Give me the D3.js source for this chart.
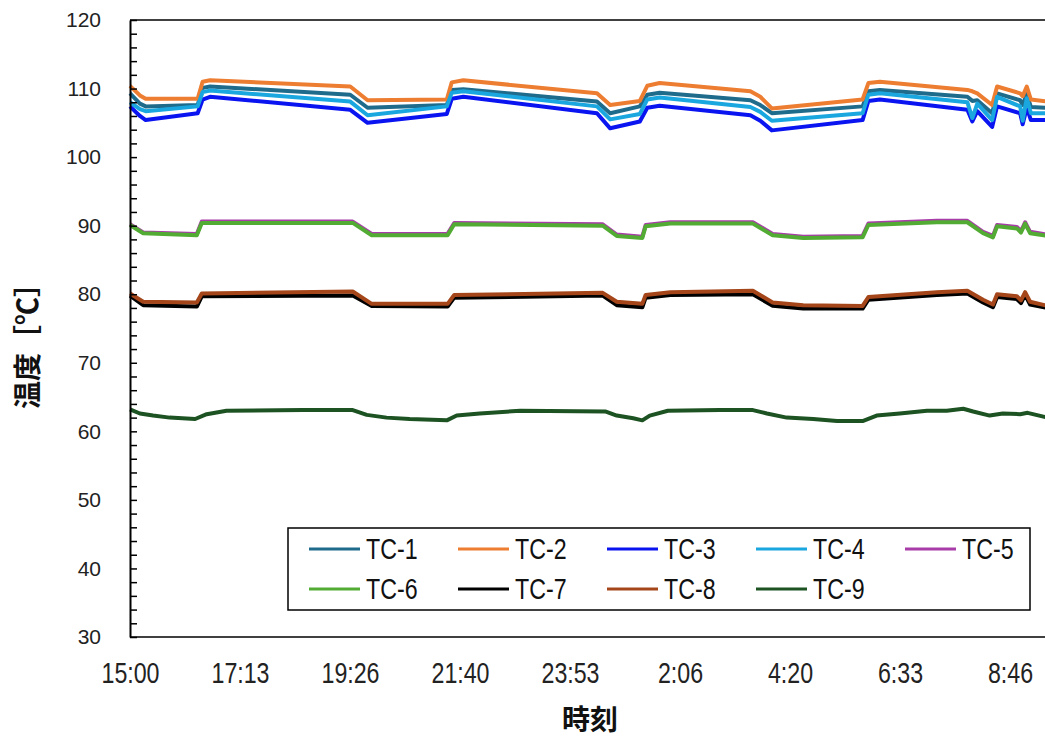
<!DOCTYPE html>
<meta charset="utf-8">
<style>
body { margin: 0; background: #fff; }
.ylab text { font-family: "Liberation Sans", Arial, sans-serif; font-size: 21px; fill: #222; }
.xlab text { font-family: "Liberation Sans", Arial, sans-serif; font-size: 29px; fill: #222; }
.title { font-family: "Noto Sans CJK JP", sans-serif; font-weight: 700; fill: #111; }
.legend text { font-family: "Liberation Sans", Arial, sans-serif; font-size: 29px; fill: #111; }
.series { fill: none; stroke-width: 4; stroke-linejoin: round; }
</style>
<body>
<script src="https://d3js.org/d3.v7.min.js"></script>
<script>
var width = 1045, height = 738;

// clock times of the readings (top group: TC-1..TC-4)
var timesHot = ["15:00","15:12","15:19","16:22","16:28","16:37","19:27","19:48","21:24","21:30","21:44",
	"0:26","0:42","1:18","1:27","1:42","3:32","3:44","3:58","5:48","5:55","6:09",
	"7:55","8:01","8:07","8:25","8:31","8:59","9:02","9:07","9:12","9:32"];
var tc1 = [109.3,107.8,107.4,107.6,110.1,110.3,109.1,107.2,107.6,109.8,109.9,
	108.1,106.4,107.4,109.1,109.4,108.3,107.6,106.4,107.4,109.6,109.8,
	108.8,108.2,108.3,106.4,109.3,108.3,107.6,109.2,107.3,107.2];
var tc2 = [110.4,109.0,108.5,108.5,111.0,111.2,110.3,108.3,108.4,110.9,111.2,
	109.3,107.6,108.2,110.4,110.8,109.6,108.8,107.1,108.4,110.8,111.0,
	109.8,109.6,109.3,107.6,110.3,109.3,108.9,110.3,108.4,108.1];
var tc3 = [107.4,106.0,105.4,106.4,108.4,108.8,106.9,105.0,106.3,108.5,108.8,
	106.4,104.2,105.2,107.2,107.5,106.1,105.3,103.9,105.4,108.2,108.4,
	106.9,105.2,106.7,104.4,107.4,106.4,104.8,107.2,105.4,105.4];
var tc4 = [108.0,107.0,106.7,107.4,109.5,109.7,108.1,106.1,107.4,109.4,109.6,
	107.4,105.5,106.3,108.4,108.7,107.3,106.6,105.3,106.4,109.1,109.3,
	108.0,105.7,107.8,105.4,108.8,107.4,105.3,108.6,106.4,106.4];

// middle group: TC-5..TC-8
var timesMid = ["15:00","15:16","16:21","16:27","19:30","19:53","21:25","21:33","0:33","0:50",
	"1:21","1:25","1:55","3:35","3:59","4:36","5:48","5:55","7:18","7:55",
	"8:14","8:26","8:31","8:55","9:00","9:05","9:11","9:32"];
var tc5 = [90.2,89.0,88.8,90.6,90.6,88.8,88.8,90.4,90.2,88.7,
	88.4,90.1,90.5,90.5,88.8,88.4,88.5,90.3,90.7,90.7,
	89.1,88.5,90.1,89.8,89.2,90.5,89.1,88.7];
var tc6 = [90.1,88.9,88.6,90.4,90.4,88.6,88.6,90.2,90.0,88.5,
	88.2,89.9,90.3,90.3,88.6,88.2,88.3,90.1,90.5,90.5,
	88.9,88.3,89.9,89.6,89.0,90.3,88.9,88.5];
var tc7 = [79.8,78.4,78.2,79.7,79.8,78.3,78.2,79.5,79.8,78.4,
	78.1,79.5,79.9,80.0,78.3,77.9,77.9,79.2,79.9,80.1,
	78.8,78.1,79.6,79.3,78.7,79.9,78.5,78.0];
var tc8 = [80.1,78.9,78.8,80.1,80.4,78.6,78.6,79.9,80.2,78.9,
	78.6,79.9,80.3,80.5,78.8,78.4,78.3,79.6,80.3,80.5,
	79.2,78.5,80.0,79.7,79.1,80.3,78.9,78.3];

// TC-9
var timesLow = ["15:00","15:12","15:28","15:48","16:19","16:33","16:57","18:30","19:30","19:47",
	"20:11","20:39","21:24","21:36","22:04","22:53","0:36","0:50","1:10","1:21",
	"1:30","1:52","2:55","3:35","3:52","4:16","4:48","5:17","5:48","6:05",
	"6:33","7:06","7:30","7:50","8:02","8:22","8:38","8:59","9:08","9:32"];
var tc9 = [63.2,62.6,62.3,62.0,61.8,62.5,63.0,63.1,63.1,62.4,
	62.0,61.8,61.6,62.3,62.6,63.0,62.9,62.3,61.9,61.6,
	62.3,63.0,63.1,63.1,62.6,62.0,61.8,61.5,61.5,62.3,
	62.6,63.0,63.0,63.3,62.9,62.3,62.6,62.5,62.7,62.0];

var names = ["TC-1","TC-2","TC-3","TC-4","TC-5","TC-6","TC-7","TC-8","TC-9"];
var colors = ["#1f6b8c","#ed7d31","#0a14f0","#1aa6de","#a83ca8","#52ac34","#000000","#a4461a","#1d5222"];
var seriesTimes = [timesHot,timesHot,timesHot,timesHot,timesMid,timesMid,timesMid,timesMid,timesLow];
var seriesVals = [tc1,tc2,tc3,tc4,tc5,tc6,tc7,tc8,tc9];

// minutes after 15:00
function toMin(s) {
	var p = s.split(":");
	var m = (+p[0]) * 60 + (+p[1]) - 900;
	return m < 0 ? m + 1440 : m;
}
function clock(m) {
	var t = 900 + m;
	var h = Math.floor(t / 60) % 24, mm = Math.floor(t % 60 + 1e-6);
	return h + ":" + (mm < 10 ? "0" : "") + mm;
}

var svg = d3.select("body").append("svg")
	.attr("width", width)
	.attr("height", height);

var x = d3.scaleLinear().domain([0, 1200]).range([130, 1120]);
var y = d3.scaleLinear().domain([30, 120]).range([637, 20]);

// data lines
var line = d3.line()
	.x(function(d) { return x(d[0]); })
	.y(function(d) { return y(d[1]); });

seriesVals.forEach(function(vals, i) {
	var pts = vals.map(function(v, j) { return [toMin(seriesTimes[i][j]), v]; });
	svg.append("path")
		.attr("class", "series")
		.attr("stroke", colors[i])
		.attr("d", line(pts));
});

// frame
svg.append("line").attr("x1", 130).attr("x2", width).attr("y1", 20).attr("y2", 20)
	.attr("stroke", "#000").attr("stroke-width", 1.3);
svg.append("line").attr("x1", 130).attr("x2", width).attr("y1", 637).attr("y2", 637)
	.attr("stroke", "#000").attr("stroke-width", 1.5);

// y axis
var yAxis = d3.axisLeft(y)
	.tickValues(d3.range(30, 121, 2))
	.tickFormat(function(d) { return d % 10 === 0 ? d : ""; })
	.tickSizeInner(-7)
	.tickSizeOuter(0)
	.tickPadding(29);
var gy = svg.append("g")
	.attr("class", "ylab")
	.attr("transform", "translate(130,0)")
	.call(yAxis);
gy.select(".domain").attr("stroke", "#000").attr("stroke-width", 2);
gy.selectAll(".tick line").attr("stroke", "#000").attr("stroke-width", 1.5);
gy.attr("font-size", null).attr("font-family", null);

// x axis (labels only, condensed face)
var xAxis = d3.axisBottom(x)
	.tickValues(d3.range(0, 1100, 400 / 3))
	.tickFormat(clock)
	.tickSize(0)
	.tickPadding(25);
var gx = svg.append("g")
	.attr("class", "xlab")
	.attr("transform", "translate(0,637)")
	.call(xAxis);
gx.select(".domain").remove();
gx.attr("font-size", null).attr("font-family", null);
gx.selectAll("text").attr("transform", "scale(0.8,1)");

// axis titles
svg.append("text")
	.attr("class", "title")
	.attr("x", 590)
	.attr("y", 730)
	.attr("text-anchor", "middle")
	.attr("font-size", 28)
	.text("時刻");
svg.append("text")
	.attr("class", "title")
	.attr("transform", "translate(38,339) rotate(-90)")
	.attr("text-anchor", "middle")
	.attr("font-size", 28)
	.attr("textLength", 140)
	.attr("lengthAdjust", "spacing")
	.text("温度［℃］");

// legend
var legend = svg.append("g").attr("class", "legend");
legend.append("rect")
	.attr("x", 288).attr("y", 528)
	.attr("width", 742).attr("height", 82)
	.attr("fill", "#fff")
	.attr("stroke", "#000")
	.attr("stroke-width", 1.5);
names.forEach(function(n, i) {
	var lx = 309 + (i % 5) * 149, ly = 549 + Math.floor(i / 5) * 40;
	legend.append("line")
		.attr("x1", lx).attr("x2", lx + 51)
		.attr("y1", ly).attr("y2", ly)
		.attr("stroke", colors[i])
		.attr("stroke-width", 3);
	legend.append("g")
		.attr("transform", "translate(" + (lx + 57) + "," + ly + ")")
		.append("text")
		.attr("transform", "scale(0.8,1)")
		.attr("dy", "0.36em")
		.text(n);
});
</script>
</body>
